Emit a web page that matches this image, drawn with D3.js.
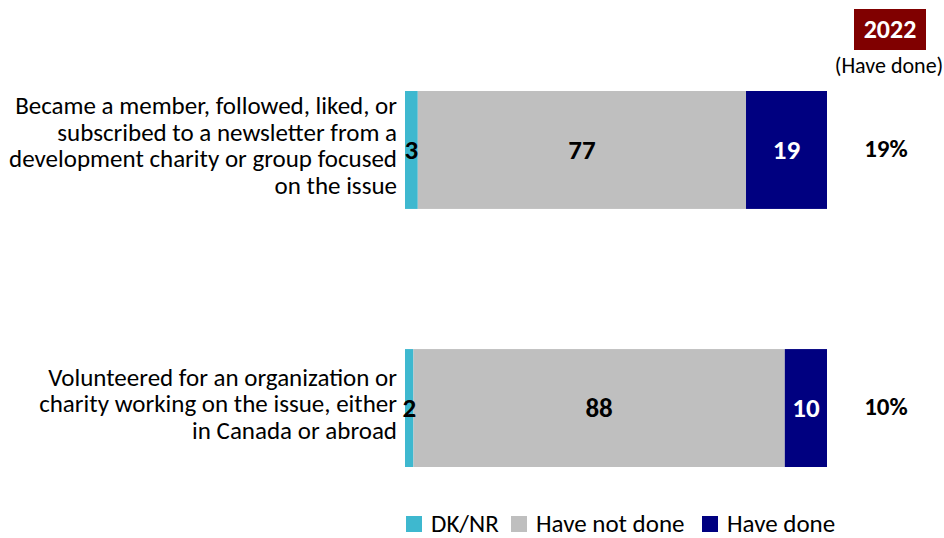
<!DOCTYPE html>
<html>
<head>
<meta charset="utf-8">
<script src="https://cdn.jsdelivr.net/npm/d3@7"></script>
<style>
  html, body { margin: 0; padding: 0; background: #fff; }
  svg { display: block; font-family: Calibri, Carlito, Lato, sans-serif; }
</style>
</head>
<body>
<svg id="chart" width="944" height="538"></svg>
<script>
// 数据
const categories = [
  "Became a member, followed, liked, or subscribed to a newsletter from a development charity or group focused on the issue",
  "Volunteered for an organization or charity working on the issue, either in Canada or abroad"
];
// 分行后的类别标签
const categoryLines = [
  ["Became a member, followed, liked, or", "subscribed to a newsletter from a", "development charity or group focused", "on the issue"],
  ["Volunteered for an organization or", "charity working on the issue, either", "in Canada or abroad"]
];
const seriesNames = ["DK/NR", "Have not done", "Have done"];
const dkNr = [3, 2];
const haveNotDone = [77, 88];
const haveDone = [19, 10];
const yearLabel = "2022";
const yearSub = "(Have done)";

const colors = ["#3EB8CF", "#BFBFBF", "#000080"];
const labelColors = ["#000", "#000", "#fff"];

const svg = d3.select("#chart");

// 100% 堆叠：每行按总和归一化
const rows = categories.map((c, i) => {
  const vals = [dkNr[i], haveNotDone[i], haveDone[i]];
  const total = d3.sum(vals);
  let acc = 0;
  const segs = vals.map((v, k) => {
    const s = { key: seriesNames[k], k, value: v, x0: acc / total * 100, x1: (acc + v) / total * 100 };
    acc += v;
    return s;
  });
  return { cat: c, i, segs, done: haveDone[i] };
});

// 比例尺
const x = d3.scaleLinear().domain([0, 100]).range([405, 827]);
const y = d3.scaleBand().domain(categories).range([91, 467]).paddingInner(0.543).paddingOuter(0);

// 条形
const rowG = svg.append("g").selectAll("g")
  .data(rows)
  .enter().append("g")
  .attr("transform", d => `translate(0,${y(d.cat)})`);

rowG.selectAll("rect")
  .data(d => d.segs)
  .enter().append("rect")
  .attr("x", d => x(d.x0))
  .attr("y", 0)
  .attr("width", d => x(d.x1) - x(d.x0))
  .attr("height", y.bandwidth())
  .attr("fill", d => colors[d.k]);

rowG.selectAll("text.val")
  .data(d => d.segs)
  .enter().append("text")
  .attr("class", "val")
  .attr("x", d => (x(d.x0) + x(d.x1)) / 2)
  .attr("y", y.bandwidth() / 2 + 9)
  .attr("text-anchor", "middle")
  .attr("font-size", 27)
  .attr("font-weight", "bold")
  .attr("fill", d => labelColors[d.k])
  .text(d => d.value);

// 类别标签
rowG.append("text")
  .attr("text-anchor", "end")
  .attr("font-size", 25)
  .attr("fill", "#000")
  .each(function(d) {
    const lines = categoryLines[d.i];
    const lh = 26.5;
    const start = y.bandwidth() / 2 + 4 - (lines.length - 1) * lh / 2;
    d3.select(this).selectAll("tspan")
      .data(lines)
      .enter().append("tspan")
      .attr("x", 397)
      .attr("y", (l, j) => start + j * lh)
      .text(l => l);
  });

// 右侧百分比
rowG.append("text")
  .attr("x", 886)
  .attr("y", y.bandwidth() / 2 + 7)
  .attr("text-anchor", "middle")
  .attr("font-size", 25)
  .attr("font-weight", "bold")
  .text(d => d.done + "%");

// 年份标题
svg.append("rect")
  .attr("x", 854).attr("y", 9)
  .attr("width", 72).attr("height", 41)
  .attr("fill", "#800000");
svg.append("text")
  .attr("x", 890).attr("y", 37.5)
  .attr("text-anchor", "middle")
  .attr("font-size", 26)
  .attr("font-weight", "bold")
  .attr("fill", "#fff")
  .text(yearLabel);
svg.append("text")
  .attr("x", 889).attr("y", 72.5)
  .attr("text-anchor", "middle")
  .attr("font-size", 22)
  .attr("fill", "#000")
  .text(yearSub);

// 图例
const legendX = [406, 511, 702];
const legend = svg.append("g").selectAll("g")
  .data(seriesNames)
  .enter().append("g")
  .attr("transform", (d, i) => `translate(${legendX[i]},516)`);
legend.append("rect")
  .attr("width", 16).attr("height", 16)
  .attr("fill", (d, i) => colors[i]);
legend.append("text")
  .attr("x", 25)
  .attr("y", 16)
  .attr("font-size", 25)
  .attr("fill", "#000")
  .text(d => d);
</script>
</body>
</html>
